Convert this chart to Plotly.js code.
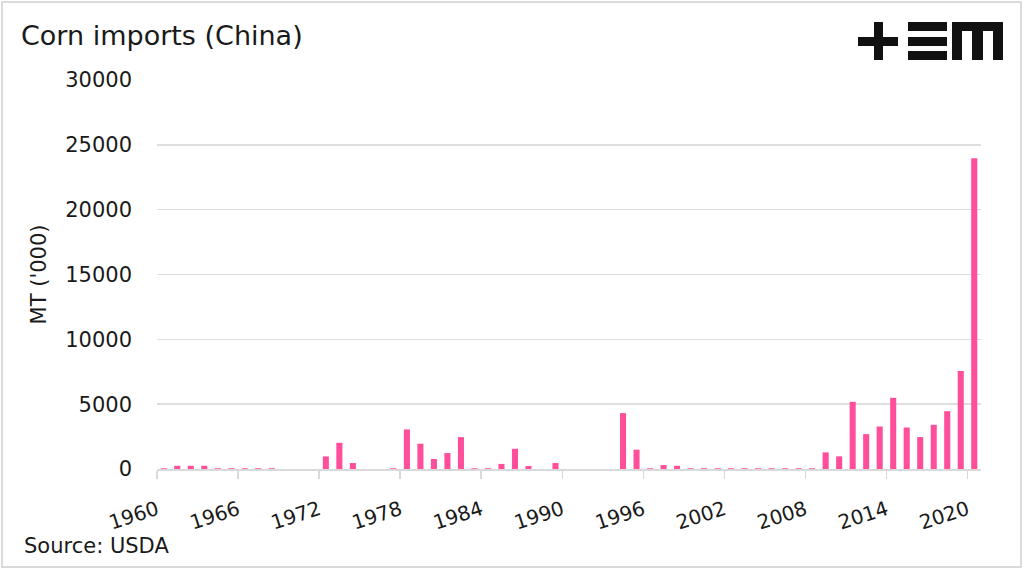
<!DOCTYPE html>
<html>
<head>
<meta charset="utf-8">
<script src="https://cdn.plot.ly/plotly-3.0.1.min.js"></script>
<style>html,body{margin:0;padding:0;background:#fff;}#chart{width:1024px;height:570px;}</style>
</head>
<body>
<div id="chart"></div>
<script>
// Data (MT '000), China corn imports by year
const years = [];
for (let y = 1960; y <= 2020; y++) years.push(y);
const imports = [
  60, 250, 250, 250, 60, 60, 60, 60, 60, 0,      // 1960-1969
  0, 0, 970, 2020, 460, 0, 0, 60, 3050, 1950,    // 1970-1979
  770, 1230, 2460, 60, 60, 390, 1560, 230, 0, 460, // 1980-1989
  0, 0, 0, 0, 4310, 1490, 60, 300, 250, 60,      // 1990-1999
  60, 60, 60, 60, 60, 60, 60, 60, 60, 1280,      // 2000-2009
  975, 5180, 2690, 3280, 5490, 3200, 2460, 3410, 4460, 7560, // 2010-2019
  23970                                          // 2020
];
const tickYears = [1960, 1966, 1972, 1978, 1984, 1990, 1996, 2002, 2008, 2014, 2020];
const yTicks = [0, 5000, 10000, 15000, 20000, 25000, 30000];

const FONT = '"DejaVu Sans", Verdana, sans-serif';
const TXT = '#1a1a1a';
const L = 157, R = 43, T = 80, B = 101, W = 1024, H = 570;
const pw = W - L - R, ph = H - T - B;
const px = v => (v - L) / pw;
const py = v => (H - B - v) / ph;
function box(x0, y0, x1, y1) {
  return {type: 'rect', xref: 'paper', yref: 'paper', x0: px(x0), x1: px(x1), y0: py(y1), y1: py(y0),
          fillcolor: '#111', line: {width: 0}, layer: 'above'};
}
const logo = [
  box(858, 37, 898, 46), box(874, 22, 883, 60),
  box(908, 22, 947, 31), box(908, 37, 947, 46), box(908, 51, 947, 60),
  box(952, 22, 1003, 31), box(952, 22, 962, 60), box(972, 22, 983, 60), box(993, 22, 1003, 60)
];
const border = {type: 'rect', xref: 'paper', yref: 'paper', x0: px(2), x1: px(1021), y0: py(567), y1: py(2),
                line: {color: '#d0d0d0', width: 1.5}, fillcolor: 'rgba(0,0,0,0)', layer: 'below'};

const trace = {
  type: 'bar', x: years, y: imports, width: 0.45,
  marker: {color: '#FF4F9B'}, hoverinfo: 'x+y'
};

const layout = {
  width: W, height: H,
  margin: {l: L, r: R, t: T, b: B},
  paper_bgcolor: '#fff', plot_bgcolor: '#fff',
  font: {family: FONT, color: TXT},
  showlegend: false,
  title: {text: 'Corn imports (China)', x: 21 / W, xanchor: 'left', xref: 'container',
          y: 1 - 36 / H, yanchor: 'middle', yref: 'container',
          font: {size: 27, family: FONT, color: TXT}},
  xaxis: {
    range: [1959.5, 2020.5],
    tickmode: 'array', tickvals: tickYears.map(v => v - 0.5), ticktext: tickYears.map(String),
    tickangle: -18, tickfont: {size: 20, family: FONT, color: TXT},
    ticks: 'outside', ticklen: 8, tickcolor: '#d9d9d9', tickwidth: 1.5,
    showline: true, linecolor: '#d9d9d9', linewidth: 1.5,
    showgrid: false, zeroline: false, fixedrange: true, ticklabelstandoff: 12
  },
  yaxis: {
    range: [0, 30000], tickmode: 'array', tickvals: yTicks, ticktext: yTicks.map(String),
    tickfont: {size: 21, family: FONT, color: TXT},
    showgrid: true, gridcolor: '#dedede', gridwidth: 1.5,
    zeroline: false, showline: false, ticks: '', ticklabelstandoff: 24,
    title: {text: "MT ('000)", font: {size: 21, family: FONT, color: TXT}, standoff: 12},
    fixedrange: true
  },
  annotations: [{
    text: 'Source: USDA', xref: 'paper', yref: 'paper', x: px(22), y: py(546),
    xanchor: 'left', yanchor: 'middle', showarrow: false,
    font: {size: 21, family: FONT, color: TXT}
  }],
  shapes: [border].concat(logo)
};

Plotly.newPlot('chart', [trace], layout, {displayModeBar: false, staticPlot: true});
</script>
</body>
</html>
